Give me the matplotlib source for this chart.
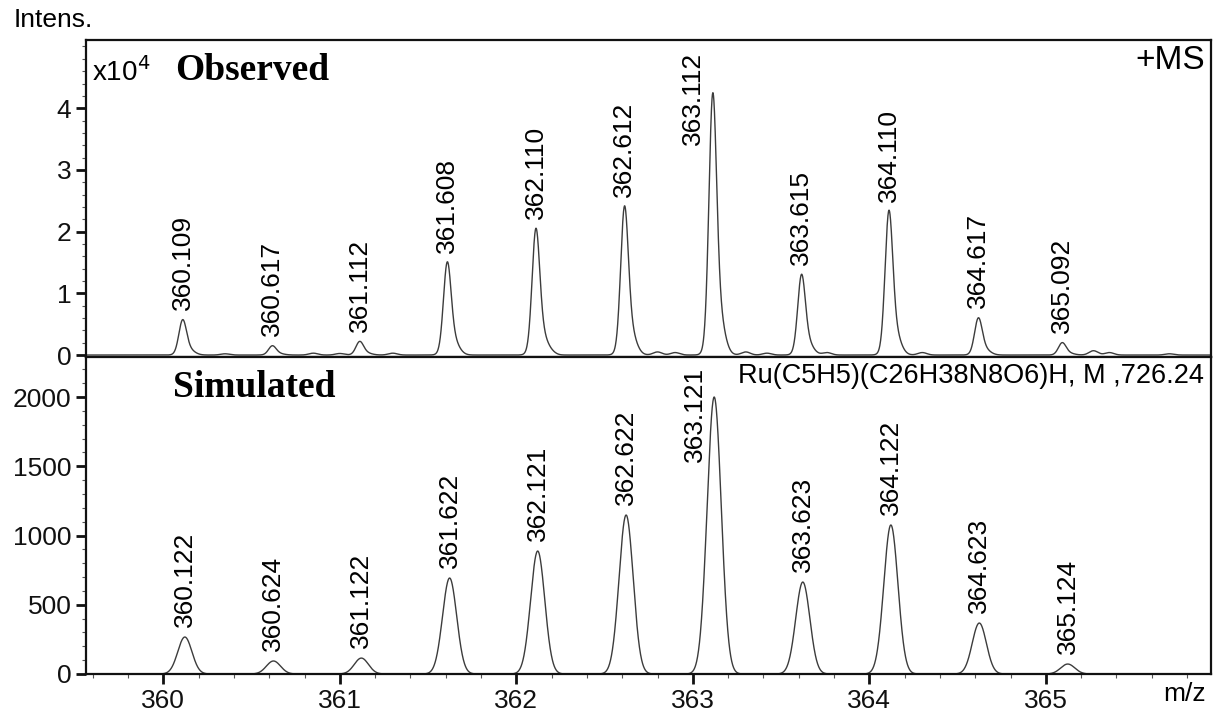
import numpy as np
import matplotlib
matplotlib.use('Agg')
import matplotlib.pyplot as plt
from matplotlib.ticker import MultipleLocator

plt.rcParams['font.family'] = ['Liberation Sans', 'DejaVu Sans']

# Observed peaks (intensity in units of 1e4)
obs_mz = [360.109, 360.617, 361.112, 361.608, 362.110, 362.612, 363.112, 363.615, 364.110, 364.617, 365.092]
obs_int = [0.57, 0.15, 0.22, 1.50, 2.04, 2.40, 4.22, 1.30, 2.33, 0.60, 0.20]
obs_labels = ['360.109', '360.617', '361.112', '361.608', '362.110', '362.612',
              '363.112', '363.615', '364.110', '364.617', '365.092']

# small unlabelled bumps in the observed baseline
noise_mz = [360.35, 360.85, 361.00, 361.30, 362.20, 362.80, 362.90, 363.30, 363.42, 363.76, 364.30, 365.27, 365.36, 365.70]
noise_int = [0.02, 0.03, 0.025, 0.03, 0.03, 0.05, 0.04, 0.05, 0.03, 0.04, 0.04, 0.07, 0.04, 0.02]

# Simulated isotope pattern
sim_mz = [360.122, 360.624, 361.122, 361.622, 362.121, 362.622, 363.121, 363.623, 364.122, 364.623, 365.124]
sim_int = [267, 94, 115, 693, 888, 1148, 2000, 664, 1076, 368, 72]
sim_labels = ['360.122', '360.624', '361.122', '361.622', '362.121', '362.622',
              '363.121', '363.623', '364.122', '364.623', '365.124']

xmin, xmax = 359.562, 365.936
mz = np.linspace(xmin, xmax, 6000)


def gauss(x, c, h, s):
    return h * np.exp(-0.5 * ((x - c) / s) ** 2)


obs_y = np.zeros_like(mz)
for c, h in zip(obs_mz, obs_int):
    obs_y += gauss(mz, c, h * 0.85, 0.021) + gauss(mz, c + 0.025, h * 0.2, 0.035)
for c, h in zip(noise_mz, noise_int):
    obs_y += gauss(mz, c, h, 0.025)

sim_y = np.zeros_like(mz)
for c, h in zip(sim_mz, sim_int):
    sim_y += gauss(mz, c, h, 0.04)

fig = plt.figure(figsize=(12.13, 7.13), dpi=100)
ax1 = fig.add_axes([0.0709, 0.4993, 0.9275, 0.4446])
ax2 = fig.add_axes([0.0709, 0.0547, 0.9275, 0.4446])

ax1.plot(mz, obs_y, color='#3c3c3c', lw=1.0)
ax2.plot(mz, sim_y, color='#3c3c3c', lw=1.0)

ax1.set_xlim(xmin, xmax)
ax2.set_xlim(xmin, xmax)
ax1.set_ylim(-0.032, 5.105)
ax2.set_ylim(0, 2289)


def label_peaks(ax, xs, ys, labels):
    # the tallest peak has no room above it, so its label sits to the left
    top = int(np.argmax(ys))
    for i, (x, y, t) in enumerate(zip(xs, ys, labels)):
        if i == top:
            ax.text(x - 0.11, 0.668, t, rotation=90, ha='center', va='bottom',
                    fontsize=19, transform=ax.get_xaxis_transform())
        else:
            ax.annotate(t, (x, y), xytext=(0, 7), textcoords='offset points',
                        rotation=90, ha='center', va='bottom', fontsize=19)


label_peaks(ax1, obs_mz, obs_int, obs_labels)
label_peaks(ax2, sim_mz, sim_int, sim_labels)

for ax in (ax1, ax2):
    for s in ax.spines.values():
        s.set_linewidth(1.6)
        s.set_color('#111111')
    ax.tick_params(axis='both', which='major', direction='out', length=7, width=2,
                   labelsize=19, colors='#111111')
    ax.tick_params(axis='both', which='minor', direction='out', length=3, width=0.8,
                   colors='#555555')
    ax.xaxis.set_major_locator(MultipleLocator(1))
    ax.xaxis.set_minor_locator(MultipleLocator(0.2))

ax1.set_yticks([0, 1, 2, 3, 4])
ax1.yaxis.set_minor_locator(MultipleLocator(0.2))
ax1.tick_params(axis='x', which='both', bottom=False, labelbottom=False)
ax2.set_yticks([0, 500, 1000, 1500, 2000])
ax2.yaxis.set_minor_locator(MultipleLocator(100))

ax1.text(0.079, 0.875, 'Observed', transform=ax1.transAxes, fontsize=27,
         fontweight='bold', family='Liberation Serif', va='baseline')
ax2.text(0.077, 0.875, 'Simulated', transform=ax2.transAxes, fontsize=27,
         fontweight='bold', family='Liberation Serif', va='baseline')
ax1.text(0.005, 0.90, r'x10$^4$', transform=ax1.transAxes, fontsize=20, va='center')
ax1.text(0.995, 0.935, '+MS', transform=ax1.transAxes, fontsize=24, ha='right', va='center')
ax2.text(0.994, 0.94, 'Ru(C5H5)(C26H38N8O6)H, M ,726.24', transform=ax2.transAxes,
         fontsize=19.5, ha='right', va='center')

fig.text(0.011, 0.972, 'Intens.', fontsize=19, va='center')
fig.text(0.994, 0.027, 'm/z', fontsize=19, ha='right', va='center')

fig.savefig('out.png', dpi=100)
